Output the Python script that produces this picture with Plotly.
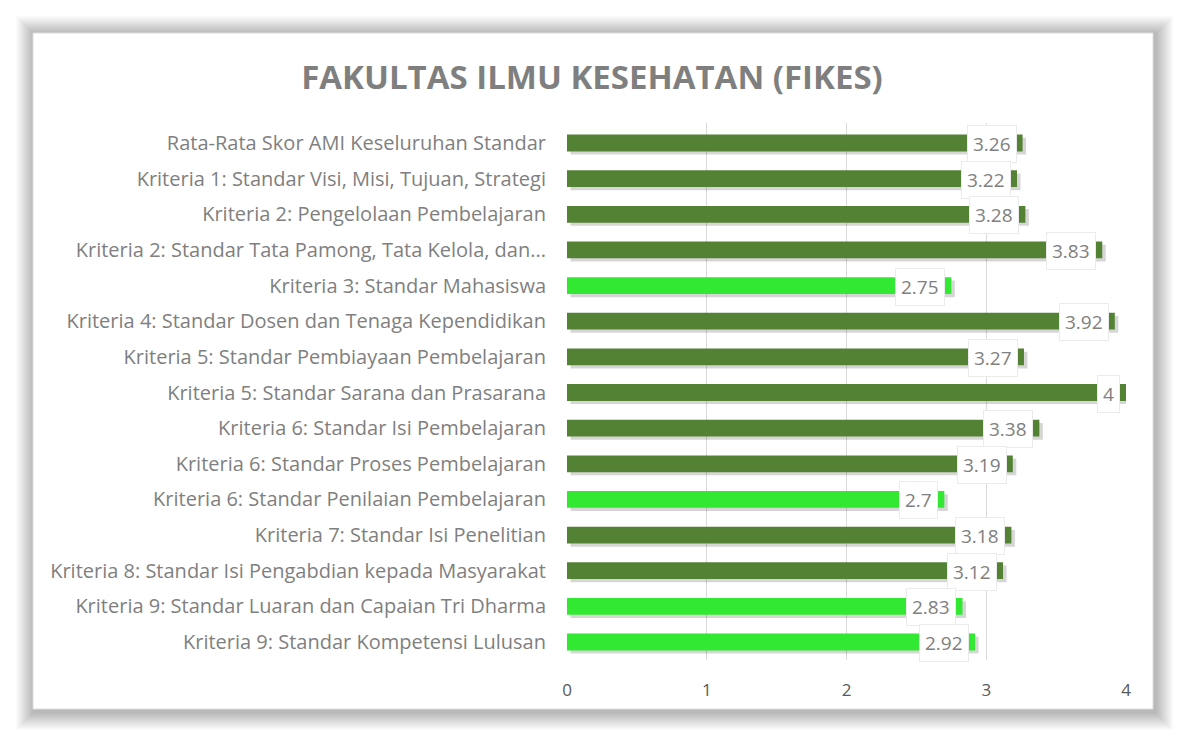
import plotly.graph_objects as go

categories = [
    "Rata-Rata Skor AMI Keseluruhan Standar",
    "Kriteria 1: Standar Visi, Misi, Tujuan, Strategi",
    "Kriteria 2: Pengelolaan Pembelajaran",
    "Kriteria 2: Standar Tata Pamong, Tata Kelola, dan...",
    "Kriteria 3: Standar Mahasiswa",
    "Kriteria 4: Standar Dosen dan Tenaga Kependidikan",
    "Kriteria 5: Standar Pembiayaan Pembelajaran",
    "Kriteria 5: Standar Sarana dan Prasarana",
    "Kriteria 6: Standar Isi Pembelajaran",
    "Kriteria 6: Standar Proses Pembelajaran",
    "Kriteria 6: Standar Penilaian Pembelajaran",
    "Kriteria 7: Standar Isi Penelitian",
    "Kriteria 8: Standar Isi Pengabdian kepada Masyarakat",
    "Kriteria 9: Standar Luaran dan Capaian Tri Dharma",
    "Kriteria 9: Standar Kompetensi Lulusan",
]
values = [3.26, 3.22, 3.28, 3.83, 2.75, 3.92, 3.27, 4, 3.38, 3.19, 2.7, 3.18, 3.12, 2.83, 2.92]
labels = ["3.26", "3.22", "3.28", "3.83", "2.75", "3.92", "3.27", "4", "3.38", "3.19", "2.7", "3.18", "3.12", "2.83", "2.92"]
x_ticks = [0, 1, 2, 3, 4]

DARK = "#548235"
LIGHT = "#33E833"
colors = [LIGHT if v < 3 else DARK for v in values]

W, H = 1186, 742
L, R, T, B = 567, 1126, 123, 660

def px(x):
    return (x - L) / (R - L)

def py(y):
    return (B - y) / (B - T)

fig = go.Figure()

# bar shadow
fig.add_trace(go.Bar(
    y=categories, x=values, orientation="h", base=0.025,
    marker=dict(color="rgba(0,0,0,0.16)", line=dict(width=0)),
    width=0.47, offset=-0.235 + 0.09, hoverinfo="skip", showlegend=False,
))
fig.add_trace(go.Bar(
    y=categories, x=values, orientation="h",
    marker=dict(color=colors, line=dict(width=0)),
    width=0.47, showlegend=False,
))

shapes = []
# card shadow layers (soft)
for d in range(18, 0, -1):
    shapes.append(dict(type="rect", xref="paper", yref="paper", layer="below",
                       x0=px(33 - d + 1), x1=px(1153 + d + 2), y0=py(709 + d + 3), y1=py(33 - d + 1),
                       line=dict(width=0), fillcolor="rgba(0,0,0,0.017)"))
shapes.append(dict(type="rect", xref="paper", yref="paper", layer="below",
                   x0=px(33), x1=px(1153), y0=py(709), y1=py(33),
                   line=dict(width=1, color="#DDDDDD"), fillcolor="white"))

annotations = []
for c, v, t in zip(categories, values, labels):
    annotations.append(dict(
        x=v, y=c, xref="x", yref="y", text=t, showarrow=False,
        xanchor="right", xshift=-6, yshift=-1,
        bgcolor="white", borderpad=5, bordercolor="#EBEBEB", borderwidth=1,
        font=dict(family="Open Sans", size=19, color="#808080"),
    ))

fig.update_layout(
    width=W, height=H,
    margin=dict(l=L, r=W - R, t=T, b=H - B, pad=0),
    paper_bgcolor="white", plot_bgcolor="rgba(0,0,0,0)",
    barmode="overlay",
    title=dict(text="<b>FAKULTAS ILMU KESEHATAN (FIKES)</b>", x=592 / W, xanchor="center",
               xref="container", yref="container",
               y=1 - 77 / H, yanchor="middle",
               font=dict(family="Open Sans", size=33, color="#7F7F7F")),
    shapes=shapes, annotations=annotations,
    font=dict(family="Open Sans", color="#7F7F7F"),
)
fig.update_xaxes(range=[0, 4], tickvals=x_ticks, showgrid=True, gridcolor="#D9D9D9", gridwidth=1,
                 zeroline=False, showline=False, ticks="", ticklabelstandoff=18,
                 tickfont=dict(family="Open Sans", size=17, color="#595959"), fixedrange=True)
fig.update_yaxes(autorange="reversed", showgrid=False, zeroline=False, showline=False,
                 ticks="", ticklabelstandoff=20,
                 tickfont=dict(family="Open Sans", size=20, color="#7F7F7F"))

fig.write_html("out.html", config={"displayModeBar": False},
               post_script="document.body.style.margin='0';document.body.style.overflow='hidden';")
